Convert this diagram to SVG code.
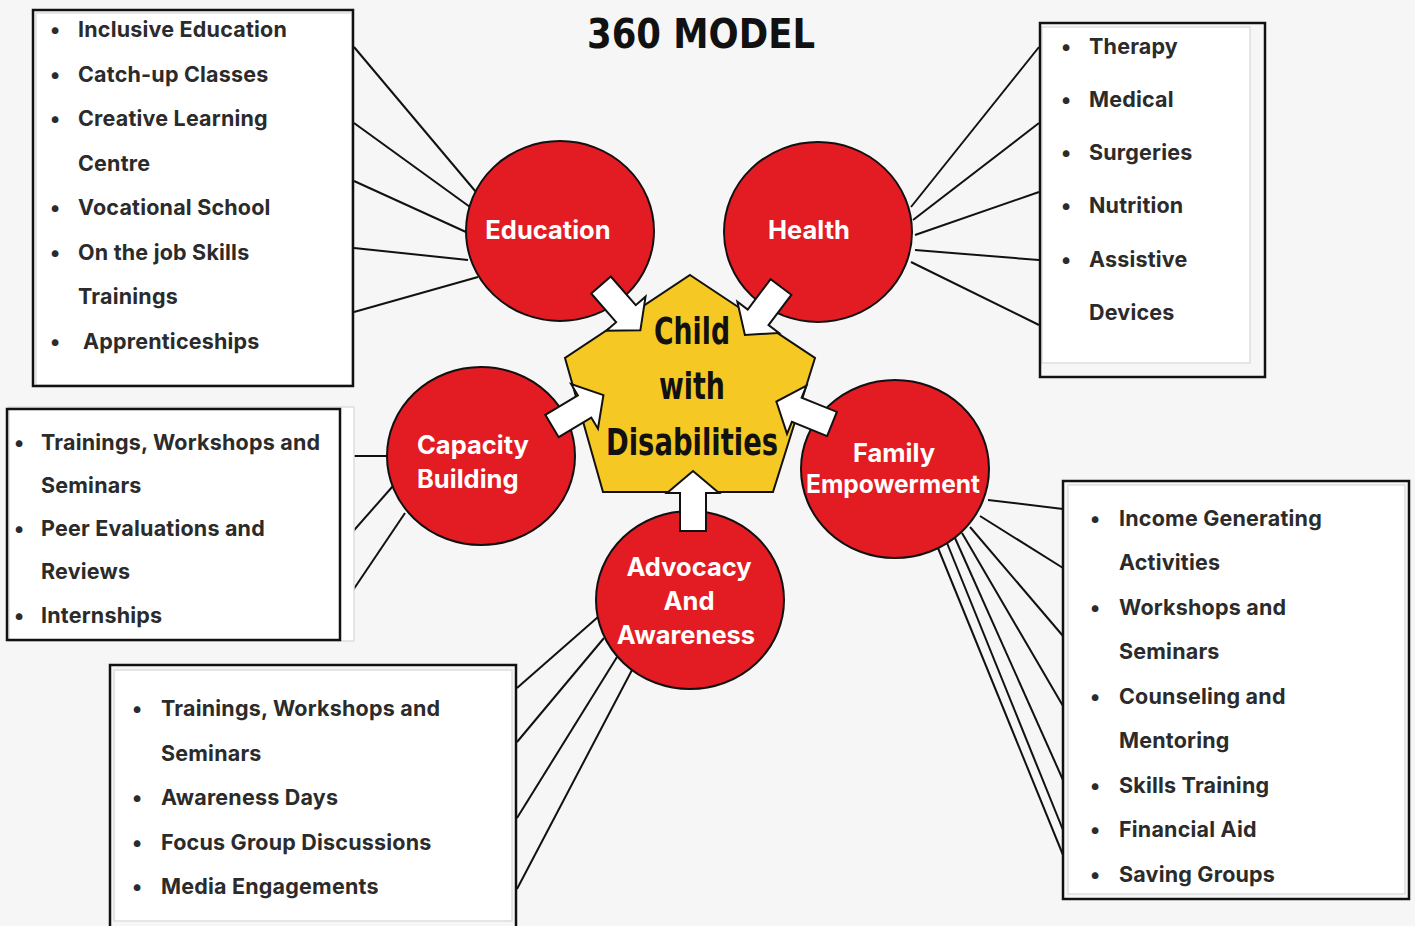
<svg xmlns="http://www.w3.org/2000/svg" width="1415" height="926" viewBox="0 0 1415 926">
<style>
.bg{fill:#f6f6f6}
.panel{fill:#ffffff;stroke:#dedede;stroke-width:1.5}
.frame{fill:none;stroke:#111;stroke-width:2.5}
.item{font-family:Inter,"Noto Sans",sans-serif;font-weight:700;font-size:21.5px;letter-spacing:0.2px;fill:#2b2b2b}
.circ{fill:#e31b23;stroke:#111;stroke-width:2}
.clab{font-family:Inter,"Noto Sans",sans-serif;font-weight:700;font-size:25.5px;fill:#ffffff}
.conn line{stroke:#111;stroke-width:2}
.arrow{fill:#ffffff;stroke:#111;stroke-width:2;stroke-linejoin:miter}
.comic{font-family:"Comic Sans MS","DejaVu Sans",sans-serif;font-weight:700;fill:#111}
</style>
<defs>
<polygon id="blk" points="0,-13 38,-13 38,-26 60,0 38,26 38,13 0,13"/>
</defs>
<rect class="bg" x="0" y="0" width="1415" height="926"/>
<text class="comic" x="701" y="48" font-size="40" text-anchor="middle" textLength="228" lengthAdjust="spacingAndGlyphs">360 MODEL</text>

<g id="connectors" class="conn">
<line x1="354" y1="47" x2="476" y2="192"/>
<line x1="354" y1="123" x2="470" y2="207"/>
<line x1="354" y1="181" x2="466" y2="232"/>
<line x1="354" y1="248" x2="468" y2="260"/>
<line x1="354" y1="312" x2="478" y2="277"/>
<line x1="911" y1="207" x2="1039" y2="47"/>
<line x1="913" y1="220" x2="1039" y2="123"/>
<line x1="915" y1="235" x2="1039" y2="192"/>
<line x1="915" y1="250" x2="1039" y2="260"/>
<line x1="911" y1="262" x2="1039" y2="325"/>
<line x1="341" y1="456" x2="387" y2="456"/>
<line x1="341" y1="545" x2="393" y2="486"/>
<line x1="341" y1="608" x2="405" y2="513"/>
<line x1="517" y1="688" x2="598" y2="617"/>
<line x1="517" y1="742" x2="604" y2="638"/>
<line x1="517" y1="818" x2="617" y2="657"/>
<line x1="517" y1="889" x2="632" y2="670"/>
<line x1="988" y1="500" x2="1063" y2="509"/>
<line x1="980" y1="516" x2="1063" y2="568"/>
<line x1="970" y1="527" x2="1063" y2="636"/>
<line x1="962" y1="533" x2="1063" y2="706"/>
<line x1="955" y1="538" x2="1063" y2="780"/>
<line x1="947" y1="543" x2="1063" y2="830"/>
<line x1="938" y1="548" x2="1063" y2="855"/>
</g>

<g id="box-education">
<rect class="panel" x="36" y="13" width="316" height="372"/>
<rect class="frame" x="33" y="10" width="320" height="376"/>
<g class="item">
<text x="50" y="37">•</text><text x="78" y="37">Inclusive Education</text>
<text x="50" y="82">•</text><text x="78" y="82">Catch-up Classes</text>
<text x="50" y="126">•</text><text x="78" y="126">Creative Learning</text>
<text x="78" y="171">Centre</text>
<text x="50" y="215">•</text><text x="78" y="215">Vocational School</text>
<text x="50" y="260">•</text><text x="78" y="260">On the job Skills</text>
<text x="78" y="304">Trainings</text>
<text x="50" y="349">•</text><text x="83" y="349">Apprenticeships</text>
</g>
</g>

<g id="box-health">
<rect class="panel" x="1042" y="27" width="208" height="336"/>
<rect class="frame" x="1040" y="23" width="225" height="354"/>
<g class="item">
<text x="1061" y="54">•</text><text x="1089" y="54">Therapy</text>
<text x="1061" y="107">•</text><text x="1089" y="107">Medical</text>
<text x="1061" y="160">•</text><text x="1089" y="160">Surgeries</text>
<text x="1061" y="213">•</text><text x="1089" y="213">Nutrition</text>
<text x="1061" y="267">•</text><text x="1089" y="267">Assistive</text>
<text x="1089" y="320">Devices</text>
</g>
</g>

<g id="box-capacity">
<rect class="panel" x="9" y="407" width="345" height="234"/>
<rect class="frame" x="7" y="409" width="333" height="231"/>
<g class="item">
<text x="14" y="450">•</text><text x="41" y="450">Trainings, Workshops and</text>
<text x="41" y="493">Seminars</text>
<text x="14" y="536">•</text><text x="41" y="536">Peer Evaluations and</text>
<text x="41" y="579">Reviews</text>
<text x="14" y="623">•</text><text x="41" y="623">Internships</text>
</g>
</g>

<g id="box-advocacy">
<rect class="panel" x="114" y="670" width="398" height="251"/>
<rect class="frame" x="110" y="665" width="406" height="270"/>
<g class="item">
<text x="132" y="716">•</text><text x="161" y="716">Trainings, Workshops and</text>
<text x="161" y="761">Seminars</text>
<text x="132" y="805">•</text><text x="161" y="805">Awareness Days</text>
<text x="132" y="850">•</text><text x="161" y="850">Focus Group Discussions</text>
<text x="132" y="894">•</text><text x="161" y="894">Media Engagements</text>
</g>
</g>

<g id="box-family">
<rect class="panel" x="1068" y="485" width="337" height="409"/>
<rect class="frame" x="1063" y="481" width="346" height="418"/>
<g class="item">
<text x="1090" y="526">•</text><text x="1119" y="526">Income Generating</text>
<text x="1119" y="570">Activities</text>
<text x="1090" y="615">•</text><text x="1119" y="615">Workshops and</text>
<text x="1119" y="659">Seminars</text>
<text x="1090" y="704">•</text><text x="1119" y="704">Counseling and</text>
<text x="1119" y="748">Mentoring</text>
<text x="1090" y="793">•</text><text x="1119" y="793">Skills Training</text>
<text x="1090" y="837">•</text><text x="1119" y="837">Financial Aid</text>
<text x="1090" y="882">•</text><text x="1119" y="882">Saving Groups</text>
</g>
</g>

<g id="node-education">
<ellipse class="circ" cx="560" cy="231" rx="94" ry="90"/>
<text class="clab" x="548" y="239" text-anchor="middle">Education</text>
</g>
<g id="node-health">
<ellipse class="circ" cx="818" cy="232" rx="94" ry="90"/>
<text class="clab" x="809" y="239" text-anchor="middle">Health</text>
</g>
<g id="node-capacity">
<ellipse class="circ" cx="481" cy="456" rx="94" ry="89"/>
<text class="clab" x="417" y="454">Capacity</text>
<text class="clab" x="417" y="488">Building</text>
</g>
<g id="node-family">
<ellipse class="circ" cx="895" cy="469" rx="94" ry="89"/>
<text class="clab" x="894" y="462" text-anchor="middle">Family</text>
<text class="clab" x="893" y="493" text-anchor="middle" textLength="174" lengthAdjust="spacingAndGlyphs">Empowerment</text>
</g>
<g id="node-advocacy">
<ellipse class="circ" cx="690" cy="600" rx="94" ry="89"/>
<text class="clab" x="689" y="576" text-anchor="middle">Advocacy</text>
<text class="clab" x="689" y="610" text-anchor="middle">And</text>
<text class="clab" x="686" y="644" text-anchor="middle">Awareness</text>
</g>

<g id="node-center">
<polygon points="690,275 815,358 773,492 603,492 565,358" fill="#f5c823" stroke="#111" stroke-width="2"/>
<text class="comic" x="692" y="344" font-size="38" text-anchor="middle" textLength="76" lengthAdjust="spacingAndGlyphs">Child</text>
<text class="comic" x="692" y="399" font-size="38" text-anchor="middle" textLength="66" lengthAdjust="spacingAndGlyphs">with</text>
<text class="comic" x="692" y="455" font-size="38" text-anchor="middle" textLength="172" lengthAdjust="spacingAndGlyphs">Disabilities</text>
</g>

<g id="arrows">
<use href="#blk" class="arrow" transform="translate(601,285) rotate(49)"/>
<use href="#blk" class="arrow" transform="translate(781,287) rotate(127)"/>
<use href="#blk" class="arrow" transform="translate(552,426) rotate(-31)"/>
<use href="#blk" class="arrow" transform="translate(832,424) rotate(202)"/>
<use href="#blk" class="arrow" transform="translate(693,531) rotate(-90)"/>
</g>
</svg>
